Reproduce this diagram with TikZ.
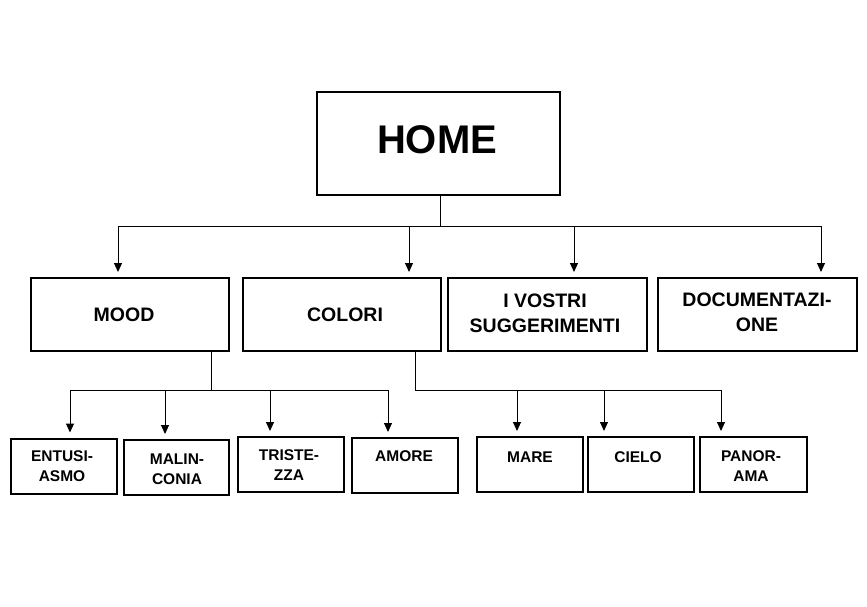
\documentclass[tikz,border=0pt]{standalone}
\usepackage{fontspec}
\setmainfont{Liberation Sans}
\usetikzlibrary{arrows.meta}
\begin{document}
\begin{tikzpicture}[x=1pt,y=-1pt,
  box/.style={draw=black,line width=2pt,rectangle,inner sep=0pt},
  conn/.style={draw=black,line width=1pt},
  arr/.style={conn,-{Triangle[length=9pt,width=8pt]},shorten >=5pt},
  lbl/.style={font=\bfseries,align=center,inner sep=0pt},
  big/.style={lbl,font=\fontsize{40}{44}\selectfont\bfseries},
  mid/.style={lbl,font=\fontsize{19.5}{25}\selectfont\bfseries},
  sml/.style={lbl,font=\fontsize{15.5}{20}\selectfont\bfseries}]
\useasboundingbox (0,0) rectangle (867,607);
% boxes
\node[box,minimum width=243pt,minimum height=103pt] (home) at (438.5,143.5) {};
\node[big] (homet) at (437,140) {HOME};
\node[box,minimum width=198pt,minimum height=73pt] (mood) at (130,314.5) {};
\node[mid] (moodt) at (124,315) {MOOD};
\node[box,minimum width=198pt,minimum height=73pt] (colori) at (342,314.5) {};
\node[mid] (colorit) at (345,315) {COLORI};
\node[box,minimum width=199pt,minimum height=73pt] (vostri) at (547.5,314.5) {};
\node[mid] (vostrit) at (545,313) {I VOSTRI\\SUGGERIMENTI};
\node[box,minimum width=199pt,minimum height=73pt] (doc) at (757.5,314.5) {};
\node[mid] (doct) at (757,312) {DOCUMENTAZI-\\ONE};
% bottom boxes
\node[box,minimum width=106pt,minimum height=55pt] (ent) at (64,466) {};
\node[sml] (entt) at (62,466) {ENTUSI-\\ASMO};
\node[box,minimum width=105pt,minimum height=55pt] (mal) at (176.5,467.5) {};
\node[sml] (malt) at (177,469) {MALIN-\\CONIA};
\node[box,minimum width=106pt,minimum height=55pt] (tri) at (291,464.5) {};
\node[sml] (trit) at (289,465) {TRISTE-\\ZZA};
\node[box,minimum width=106pt,minimum height=55pt] (amo) at (405,465.5) {};
\node[sml] (amot) at (404,456) {AMORE};
\node[box,minimum width=106pt,minimum height=55pt] (mare) at (530,464.5) {};
\node[sml] (maret) at (530,457) {MARE};
\node[box,minimum width=106pt,minimum height=55pt] (cielo) at (641,464.5) {};
\node[sml] (cielot) at (638,457) {CIELO};
\node[box,minimum width=107pt,minimum height=55pt] (pano) at (753.5,464.5) {};
\node[sml] (panot) at (751,466) {PANOR-\\AMA};
% connectors from HOME
\coordinate (hb) at (440,226);
\coordinate (hl) at (118,226);
\coordinate (hr) at (821,226);
\coordinate (h2) at (409,226);
\coordinate (h3) at (574,226);
\draw[conn] (hb |- home.south) -- (hb);
\draw[conn] (hl) -- (hr);
\draw[arr] (hl) -- (hl |- mood.north);
\draw[arr] (h2) -- (h2 |- colori.north);
\draw[arr] (h3) -- (h3 |- vostri.north);
\draw[arr] (hr) -- (hr |- doc.north);
% connectors from MOOD
\coordinate (mb) at (211,390);
\coordinate (m1) at (70,390);
\coordinate (m2) at (165,390);
\coordinate (m3) at (270,390);
\coordinate (m4) at (388,390);
\draw[conn] (mb |- mood.south) -- (mb);
\draw[conn] (m1) -- (m4);
\draw[arr] (m1) -- (m1 |- ent.north);
\draw[arr] (m2) -- (m2 |- mal.north);
\draw[arr] (m3) -- (m3 |- tri.north);
\draw[arr] (m4) -- (m4 |- amo.north);
% connectors from COLORI
\coordinate (cb) at (415,390);
\coordinate (c1) at (517,390);
\coordinate (c2) at (604,390);
\coordinate (c3) at (721,390);
\draw[conn] (cb |- colori.south) -- (cb) -- (c3);
\draw[arr] (c1) -- (c1 |- mare.north);
\draw[arr] (c2) -- (c2 |- cielo.north);
\draw[arr] (c3) -- (c3 |- pano.north);
\end{tikzpicture}
\end{document}
